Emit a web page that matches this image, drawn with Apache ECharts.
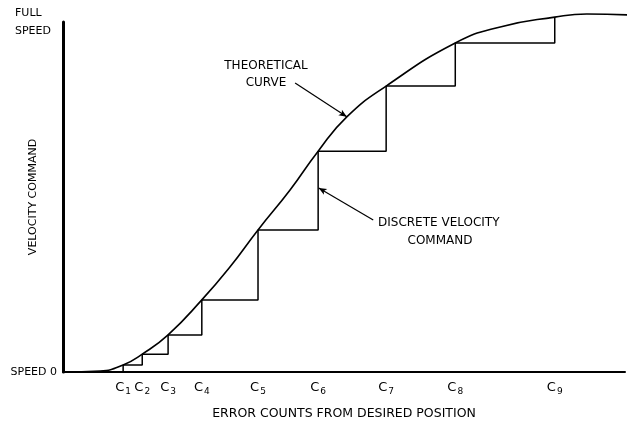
<!DOCTYPE html>
<html>
<head>
<meta charset="utf-8">
<script src="https://cdn.jsdelivr.net/npm/echarts@6/dist/echarts.min.js"></script>
<style>
  html, body { margin: 0; padding: 0; background: #fff; }
  #chart { width: 629px; height: 421px; }
</style>
</head>
<body>
<div id="chart"></div>
<script>
// error counts where the discrete command steps (x axis, 0..100 across the plot)
const cPositions = [10.7, 14.1, 18.7, 24.7, 34.7, 45.4, 57.5, 69.8, 87.5]
const cSubscripts = ['1', '2', '3', '4', '5', '6', '7', '8', '9']
// discrete velocity command held from each c up to the next one (0 = speed 0, 100 = full speed)
const stepLevels = [2.0, 5.1, 10.6, 20.6, 40.6, 63.1, 81.7, 94.0, 101.4]
// theoretical curve
const curveX = [0, 6.6, 10.7, 14.1, 18.7, 24.7, 29.7, 34.7, 40.4, 45.4, 50.5, 57.5, 69.8, 77.8, 87.5, 93.2, 100.7]
const curveY = [0, 0.3, 2.0, 5.1, 10.6, 20.6, 30.0, 40.6, 52.0, 63.1, 72.9, 81.7, 94.0, 98.6, 101.4, 102.3, 102.0]
const yTickValues = [0, 100]
const yTickLabels = ['SPEED 0', '{f|FULL}\n{f|SPEED}']

const FONT = "'DejaVu Sans', sans-serif"
const INK = '#000'

const chart = echarts.init(document.getElementById('chart'))

const stepData = [[cPositions[0], 0]].concat(cPositions.map((c, i) => [c, stepLevels[i]]))

chart.setOption({
  backgroundColor: '#fff',
  animation: false,
  grid: { left: 63, right: 4, top: 22, bottom: 49, outerBoundsMode: 'none', containLabel: false },
  xAxis: {
    type: 'value',
    min: 0,
    max: 100,
    name: 'ERROR COUNTS FROM DESIRED POSITION',
    nameLocation: 'middle',
    nameGap: 35,
    nameMoveOverlap: false,
    nameTextStyle: { fontFamily: FONT, fontSize: 12.5, color: INK },
    axisLine: { lineStyle: { color: INK, width: 2 } },
    axisTick: { show: false },
    splitLine: { show: false },
    axisLabel: {
      customValues: cPositions,
      margin: 8,
      formatter: (v) => {
        const i = cPositions.indexOf(v)
        return '{c|C}{s|' + cSubscripts[i] + '}'
      },
      rich: {
        c: { fontFamily: FONT, fontSize: 13, color: INK, lineHeight: 16 },
        s: { fontFamily: FONT, fontSize: 9, color: INK, padding: [7, 0, 0, 1] },
      },
    },
  },
  yAxis: {
    type: 'value',
    min: 0,
    max: 100,
    name: 'VELOCITY COMMAND',
    nameLocation: 'middle',
    nameGap: 24,
    nameRotate: 90,
    nameMoveOverlap: false,
    nameTextStyle: { fontFamily: FONT, fontSize: 11, color: INK },
    axisLine: { show: true, lineStyle: { color: INK, width: 3 } },
    axisTick: { show: false },
    splitLine: { show: false },
    axisLabel: {
      customValues: yTickValues,
      margin: 6,
      fontFamily: FONT,
      fontSize: 11,
      color: INK,
      formatter: (v) => yTickLabels[yTickValues.indexOf(v)],
      rich: {
        f: { fontFamily: FONT, fontSize: 11, color: INK, width: 42, align: 'left', lineHeight: 18 },
      },
    },
  },
  series: [
    {
      name: 'Theoretical curve',
      type: 'line',
      data: curveX.map((x, i) => [x, curveY[i]]),
      smooth: 0.5,
      clip: false,
      showSymbol: false,
      lineStyle: { color: INK, width: 1.6 },
      markLine: {
        silent: true,
        symbol: ['none', 'arrow'],
        symbolSize: [5, 8],
        label: { show: false },
        lineStyle: { color: INK, width: 1.2, type: 'solid' },
        data: [
          [{ coord: [41.3, 82.6] }, { coord: [50.5, 72.9] }],
          [{ coord: [55.2, 43.4] }, { coord: [45.5, 52.6] }],
        ],
      },
    },
    {
      name: 'Discrete velocity command',
      type: 'line',
      step: 'end',
      data: stepData,
      clip: false,
      showSymbol: false,
      lineStyle: { color: INK, width: 1.5 },
    },
  ],
  graphic: [
    { type: 'text', x: 266, y: 66, style: { text: 'THEORETICAL', font: '12px ' + FONT, fill: INK, align: 'center', verticalAlign: 'middle' } },
    { type: 'text', x: 266, y: 83, style: { text: 'CURVE', font: '12px ' + FONT, fill: INK, align: 'center', verticalAlign: 'middle' } },
    { type: 'text', x: 378, y: 223, style: { text: 'DISCRETE VELOCITY', font: '12px ' + FONT, fill: INK, align: 'left', verticalAlign: 'middle' } },
    { type: 'text', x: 440, y: 241, style: { text: 'COMMAND', font: '12px ' + FONT, fill: INK, align: 'center', verticalAlign: 'middle' } },
  ],
})

window.addEventListener('resize', () => chart.resize())
</script>
</body>
</html>
